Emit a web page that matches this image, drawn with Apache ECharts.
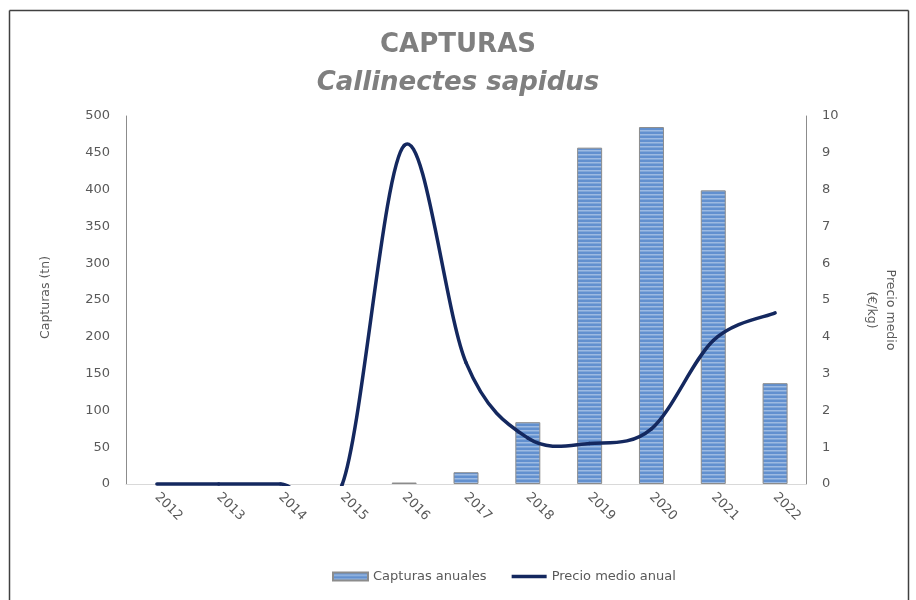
<!DOCTYPE html>
<html>
<head>
<meta charset="utf-8">
<script src="https://cdn.jsdelivr.net/npm/echarts@6/dist/echarts.min.js"></script>
<style>
  html, body { margin: 0; padding: 0; background: #ffffff; }
  #chart { width: 916px; height: 600px; }
</style>
</head>
<body>
<div id="chart"></div>
<script>
// Yearly catches of blue crab and mean first-sale price
const years = ['2012', '2013', '2014', '2015', '2016', '2017', '2018', '2019', '2020', '2021', '2022'];
const capturasAnuales = [null, null, null, null, 2, 16, 84, 457, 485, 399, 137]; // tn
const precioMedioAnual = [0, 0, 0, 0, 9.2, 3.3, 1.25, 1.1, 1.5, 3.9, 4.65];      // €/kg

// Axis ranges
const capturasAxis = { min: 0, max: 500, step: 50 };
const precioAxis = { min: 0, max: 10, step: 1 };

const FONT = '"DejaVu Sans", sans-serif';
const TEXT_GREY = '#595959';
const LINE_BLUE = '#14285f';

// Horizontal stripe fill for the bars
function stripePattern() {
  const c = document.createElement('canvas');
  c.width = 4; c.height = 4;
  const g = c.getContext('2d');
  g.fillStyle = '#6290cf'; g.fillRect(0, 0, 4, 2);
  g.fillStyle = '#9dbae2'; g.fillRect(0, 2, 4, 1);
  g.fillStyle = '#80a6d8'; g.fillRect(0, 3, 4, 1);
  return c;
}

// Price curve: one cubic Bezier segment per pair of years (Catmull-Rom style tangents),
// positioned through the chart's own coordinate system.
function renderPriceSegment(params, api) {
  const i = params.dataIndex;
  const n = precioMedioAnual.length;
  if (i >= n - 1) return null;
  const at = k => {
    const kk = Math.max(0, Math.min(n - 1, k));
    return api.coord([kk, precioMedioAnual[kk]]);
  };
  const p0 = at(i - 1), p1 = at(i), p2 = at(i + 1), p3 = at(i + 2);
  const cs = params.coordSys;
  return {
    type: 'group',
    clipPath: { type: 'rect', shape: { x: cs.x - 4, y: cs.y - 4, width: cs.width + 8, height: cs.height + 6 } },
    children: [{
      type: 'bezierCurve',
      shape: {
        x1: p1[0], y1: p1[1],
        x2: p2[0], y2: p2[1],
        cpx1: p1[0] + (p2[0] - p0[0]) / 6, cpy1: p1[1] + (p2[1] - p0[1]) / 6,
        cpx2: p2[0] - (p3[0] - p1[0]) / 6, cpy2: p2[1] - (p3[1] - p1[1]) / 6
      },
      style: { stroke: LINE_BLUE, lineWidth: 3.5, fill: null, lineCap: 'round' }
    }]
  };
}

const chart = echarts.init(document.getElementById('chart'), null, { renderer: 'canvas' });

chart.setOption({
  backgroundColor: '#ffffff',
  animation: false,
  title: {
    text: 'CAPTURAS',
    subtext: 'Callinectes sapidus',
    left: 'center',
    top: 27,
    itemGap: 12,
    textStyle: { fontFamily: FONT, fontSize: 26, fontWeight: 'bold', color: '#7f7f7f' },
    subtextStyle: { fontFamily: FONT, fontSize: 26, fontWeight: 'bold', fontStyle: 'italic', color: '#7f7f7f' }
  },
  legend: {
    top: 565,
    left: 327,
    itemWidth: 35,
    itemHeight: 8,
    itemGap: 25,
    textStyle: { fontFamily: FONT, fontSize: 13, color: TEXT_GREY },
    data: [
      { name: 'Capturas anuales', icon: 'rect' },
      { name: 'Precio medio anual', icon: 'path://M0,0M0,8M0,2.2L35,2.2L35,5.8L0,5.8Z' }
    ]
  },
  grid: { left: 126, right: 110, top: 116, bottom: 116, containLabel: false },
  xAxis: {
    type: 'category',
    data: years,
    boundaryGap: true,
    axisLine: { show: true, lineStyle: { color: '#d9d9d9', width: 1 } },
    axisTick: { show: false },
    axisLabel: { rotate: -45, margin: 11, fontFamily: FONT, fontSize: 13, color: TEXT_GREY }
  },
  yAxis: [
    {
      type: 'value',
      min: capturasAxis.min, max: capturasAxis.max, interval: capturasAxis.step,
      name: 'Capturas (tn)',
      nameLocation: 'middle',
      nameRotate: 90,
      nameGap: 74,
      nameTextStyle: { fontFamily: FONT, fontSize: 12.5, color: TEXT_GREY, padding: [0, 0, 0, 5] },
      axisLine: { show: true, lineStyle: { color: '#8c8c8c', width: 1 } },
      axisTick: { show: false },
      splitLine: { show: false },
      axisLabel: { margin: 16, fontFamily: FONT, fontSize: 13, color: TEXT_GREY }
    },
    {
      type: 'value',
      position: 'right',
      min: precioAxis.min, max: precioAxis.max, interval: precioAxis.step,
      name: 'Precio medio\n(€/kg)',
      nameLocation: 'middle',
      nameRotate: -90,
      nameGap: 56,
      nameTextStyle: { fontFamily: FONT, fontSize: 12.5, color: TEXT_GREY, lineHeight: 19, align: 'center', padding: [0, 0, 0, 20] },
      axisLine: { show: true, lineStyle: { color: '#8c8c8c', width: 1 } },
      axisTick: { show: false },
      splitLine: { show: false },
      axisLabel: { margin: 16, fontFamily: FONT, fontSize: 13, color: TEXT_GREY }
    }
  ],
  series: [
    {
      name: 'Capturas anuales',
      type: 'bar',
      yAxisIndex: 0,
      data: capturasAnuales,
      barWidth: 25,
      itemStyle: {
        color: { image: stripePattern(), repeat: 'repeat' },
        borderColor: '#8c8c8c',
        borderWidth: 1
      },
      z: 2
    },
    {
      name: 'Precio medio anual',
      type: 'custom',
      yAxisIndex: 1,
      data: precioMedioAnual.map((v, k) => [k, v]),
      encode: { x: 0, y: 1 },
      renderItem: renderPriceSegment,
      itemStyle: { color: LINE_BLUE },
      clip: false,
      z: 3
    }
  ],
  graphic: [
    { type: 'line', shape: { x1: 9.5, y1: 10.5, x2: 908.5, y2: 10.5 }, style: { stroke: '#404040', lineWidth: 1.5 }, silent: true },
    { type: 'line', shape: { x1: 9.5, y1: 10.5, x2: 9.5, y2: 600 }, style: { stroke: '#404040', lineWidth: 1.5 }, silent: true },
    { type: 'line', shape: { x1: 908.5, y1: 10.5, x2: 908.5, y2: 600 }, style: { stroke: '#404040', lineWidth: 1.5 }, silent: true }
  ]
});
</script>
</body>
</html>
